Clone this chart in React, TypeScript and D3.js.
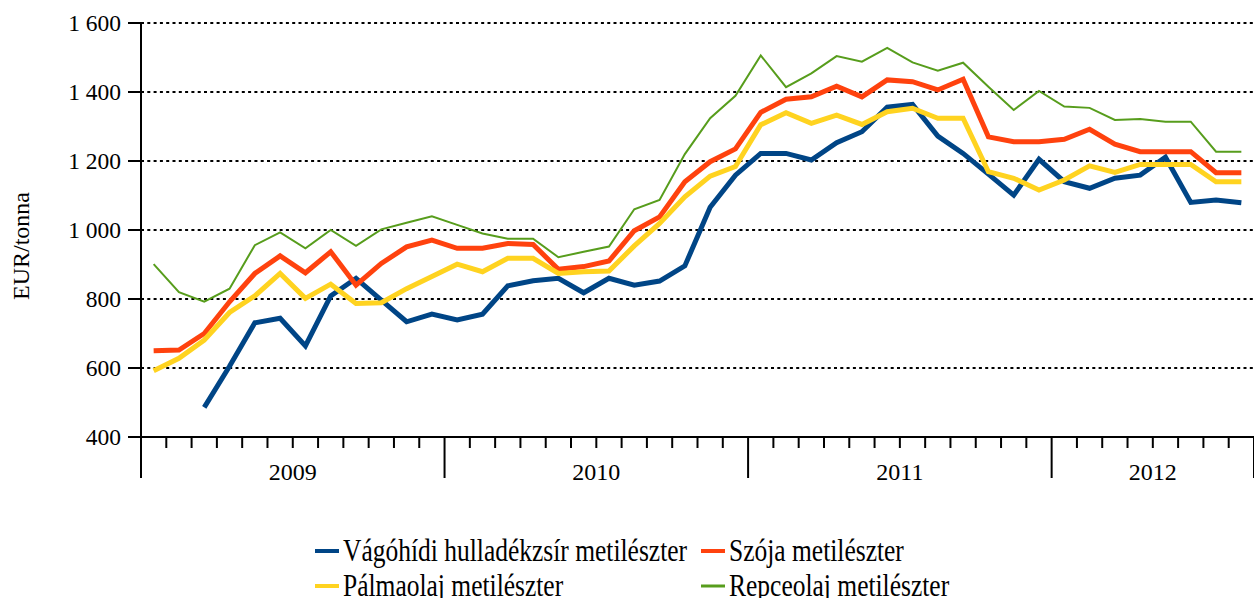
import React, { useEffect, useRef } from "react";
import * as d3 from "d3";

// months Jan 2009 .. Aug 2012
const years = ["2009", "2010", "2011", "2012"];
const monthsPerYear = [12, 12, 12, 8];

const seriesNames = [
  "Vágóhídi hulladékzsír metilészter",
  "Szója metilészter",
  "Pálmaolaj metilészter",
  "Repceolaj metilészter",
];
const seriesColors = ["#004586", "#ff420e", "#ffd320", "#579d1c"];
const seriesWidths = [5, 5, 5, 2];

// null = no data
const vagohidi = [
  null, null, 486, 605, 731, 744, 664, 809, 860, 797, 734, 756,
  739, 756, 838, 853, 860, 818, 860, 840, 852, 896, 1066, 1159,
  1222, 1222, 1203, 1253, 1285, 1356, 1364, 1272, 1222, 1162, 1101, 1205,
  1140, 1121, 1150, 1159, 1211, 1080, 1087, 1079,
];
const szoja = [
  650, 652, 700, 792, 874, 925, 876, 937, 840, 903, 951, 971,
  947, 947, 961, 958, 886, 894, 910, 998, 1038, 1140, 1198, 1235,
  1341, 1379, 1386, 1417, 1386, 1435, 1430, 1406, 1437, 1270, 1256, 1256,
  1263, 1292, 1249, 1227, 1227, 1227, 1166, 1166,
];
const palma = [
  592, 628, 681, 761, 809, 874, 802, 843, 787, 789, 830, 865,
  901, 879, 918, 918, 874, 879, 881, 954, 1019, 1096, 1156, 1184,
  1305, 1340, 1309, 1333, 1306, 1343, 1353, 1324, 1324, 1169, 1150, 1116,
  1145, 1186, 1167, 1190, 1190, 1190, 1140, 1140,
];
const repce = [
  901, 820, 792, 830, 956, 993, 947, 1000, 954, 1002, 1021, 1040,
  1015, 990, 975, 975, 921, 937, 952, 1060, 1087, 1220, 1324, 1389,
  1506, 1414, 1454, 1504, 1488, 1528, 1486, 1462, 1485, 1415, 1348, 1403,
  1358, 1354, 1319, 1322, 1314, 1314, 1227, 1227,
];
const seriesValues = [vagohidi, szoja, palma, repce];

const yTicks = [400, 600, 800, 1000, 1200, 1400, 1600];

export default function App() {
  const ref = useRef<SVGSVGElement>(null);

  useEffect(() => {
    const svg = d3.select(ref.current);
    svg.selectAll("*").remove();

    const nMonths = d3.sum(monthsPerYear);
    const x = d3.scaleLinear().domain([0, nMonths]).range([141, 1254]);
    const y = d3.scaleLinear().domain([400, 1600]).range([437, 23]);
    const font = "'Liberation Serif', 'Times New Roman', serif";
    const fmt = d3.formatLocale({ decimal: ",", thousands: " ", grouping: [3], currency: ["", ""] }).format(",d");

    // dotted gridlines
    svg.append("g").selectAll("line").data(yTicks.filter((t) => t > 400)).enter().append("line")
      .attr("x1", 141).attr("x2", 1254)
      .attr("y1", (d) => y(d)).attr("y2", (d) => y(d))
      .attr("stroke", "#000").attr("stroke-width", 2).attr("stroke-dasharray", "3,3.3");

    // y axis
    const ya = svg.append("g");
    ya.append("line").attr("x1", 141).attr("x2", 141).attr("y1", y(1600)).attr("y2", 478)
      .attr("stroke", "#000").attr("stroke-width", 2);
    ya.selectAll(".tk").data(yTicks).enter().append("line")
      .attr("x1", 128).attr("x2", 141).attr("y1", (d) => y(d)).attr("y2", (d) => y(d))
      .attr("stroke", "#000").attr("stroke-width", 2);
    ya.selectAll("text").data(yTicks).enter().append("text")
      .attr("x", 121).attr("y", (d) => y(d)).attr("dy", "0.35em")
      .attr("text-anchor", "end").attr("font-family", font).attr("font-size", 23.5)
      .text((d) => fmt(d));

    svg.append("text")
      .attr("transform", "translate(29,246) rotate(-90)")
      .attr("text-anchor", "middle").attr("font-family", font).attr("font-size", 24)
      .text("EUR/tonna");

    // x axis
    const xa = svg.append("g");
    xa.append("line").attr("x1", 141).attr("x2", 1254).attr("y1", 437).attr("y2", 437)
      .attr("stroke", "#000").attr("stroke-width", 2);
    const yearStarts = [0];
    monthsPerYear.forEach((m, i) => yearStarts.push(yearStarts[i] + m));
    xa.selectAll(".m").data(d3.range(nMonths + 1)).enter().append("line")
      .attr("x1", (d) => x(d)).attr("x2", (d) => x(d))
      .attr("y1", 437).attr("y2", (d) => (yearStarts.includes(d) ? 478 : 448))
      .attr("stroke", "#000").attr("stroke-width", 2);
    xa.selectAll("text").data(years).enter().append("text")
      .attr("x", (d, i) => (x(yearStarts[i]) + x(yearStarts[i + 1])) / 2)
      .attr("y", 480).attr("text-anchor", "middle")
      .attr("font-family", font).attr("font-size", 24)
      .text((d) => d);

    // lines
    const line = d3.line<number | null>()
      .defined((d) => d != null)
      .x((d, i) => x(i + 0.5))
      .y((d) => y(d as number));
    seriesValues.forEach((vals, s) => {
      svg.append("path").datum(vals)
        .attr("d", line)
        .attr("fill", "none")
        .attr("stroke", seriesColors[s])
        .attr("stroke-width", seriesWidths[s])
        .attr("stroke-linejoin", "miter");
    });

    // legend (text in the original is a bit stretched vertically)
    const legPos = [
      [315, 551, 561],
      [701, 551, 561],
      [315, 586, 596],
      [701, 586, 596],
    ];
    seriesNames.forEach((name, s) => {
      const [lx, ly, base] = legPos[s];
      const g = svg.append("g");
      g.append("line").attr("x1", lx).attr("x2", lx + 24).attr("y1", ly).attr("y2", ly)
        .attr("stroke", seriesColors[s]).attr("stroke-width", s === 3 ? 3 : 4);
      g.append("text")
        .attr("transform", `translate(${lx + 28},${base}) scale(1,1.22)`)
        .attr("font-family", font).attr("font-size", 25.5)
        .text(name);
    });
  }, []);

  return (
    <svg ref={ref} width={1254} height={598}
      style={{ position: "absolute", left: 0, top: 0, background: "#fff" }} />
  );
}
